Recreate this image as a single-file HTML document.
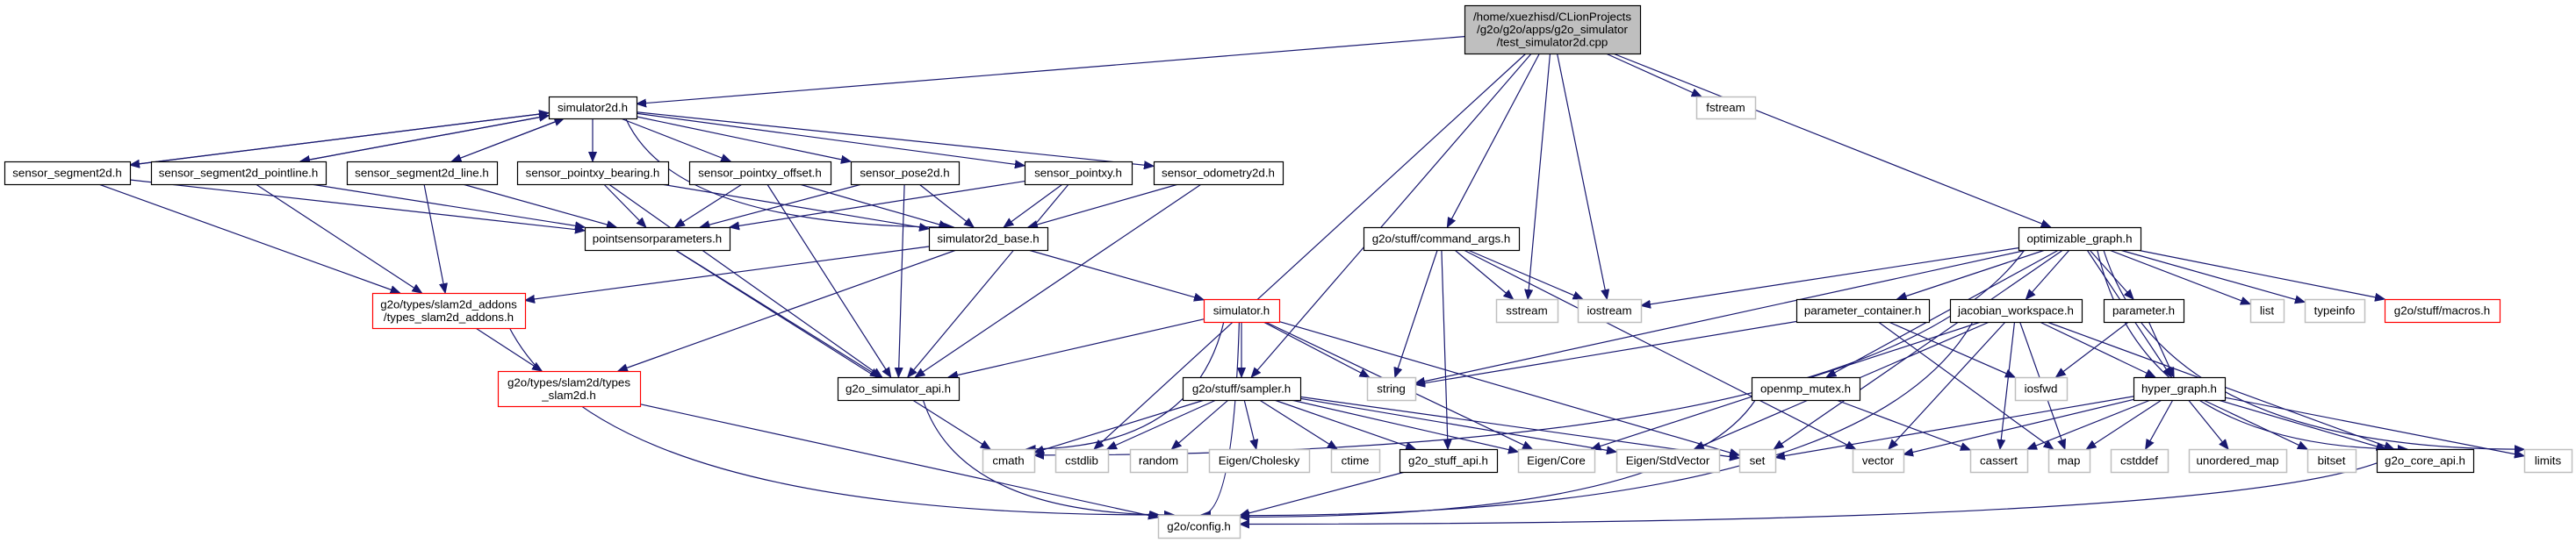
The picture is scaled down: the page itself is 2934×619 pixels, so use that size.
<!DOCTYPE html>
<html><head><meta charset="utf-8"><style>
html,body{margin:0;padding:0;background:#fff;}
svg{display:block;}
text{font-family:"Liberation Sans",Helvetica,sans-serif;font-size:13.33px;fill:#000;}
</style></head><body>
<svg id="g" xmlns="http://www.w3.org/2000/svg" width="2934" height="619" viewBox="0 0 2934 619">
<defs><marker id="a" markerUnits="userSpaceOnUse" markerWidth="12" markerHeight="10" refX="11" refY="5" orient="auto"><path d="M0,0.5 L11,5 L0,9.5 z" fill="#191970" stroke="#191970"/></marker></defs>
<g id="edges"></g>
<g id="nodes"></g>
</svg>
<script>
var N={
test:[1668,1868,6,61,["/home/xuezhisd/CLionProjects","/g2o/g2o/apps/g2o_simulator","/test_simulator2d.cpp"],"t"],
sim2d:[625,725,110,135,["simulator2d.h"],"b"],
fstream:[1932,1999,110,135,["fstream"],"g"],
seg:[5,148,184,210,["sensor_segment2d.h"],"b"],
segpl:[172,371,184,210,["sensor_segment2d_pointline.h"],"b"],
segl:[395,566,184,210,["sensor_segment2d_line.h"],"b"],
bear:[589,761,184,210,["sensor_pointxy_bearing.h"],"b"],
off:[785,946,184,210,["sensor_pointxy_offset.h"],"b"],
pose:[969,1092,184,210,["sensor_pose2d.h"],"b"],
pxy:[1167,1289,184,210,["sensor_pointxy.h"],"b"],
odo:[1314,1461,184,210,["sensor_odometry2d.h"],"b"],
psp:[666,831,259,285,["pointsensorparameters.h"],"b"],
base:[1058,1193,259,285,["simulator2d_base.h"],"b"],
cargs:[1553,1730,259,285,["g2o/stuff/command_args.h"],"b"],
opt:[2299,2438,259,285,["optimizable_graph.h"],"b"],
addons:[424,598,334,374,["g2o/types/slam2d_addons","/types_slam2d_addons.h"],"r"],
simh:[1371,1457,341,367,["simulator.h"],"r"],
sstream:[1704,1774,341,367,["sstream"],"g"],
iostream:[1797,1869,341,367,["iostream"],"g"],
pcont:[2046,2197,341,367,["parameter_container.h"],"b"],
jac:[2221,2371,341,367,["jacobian_workspace.h"],"b"],
param:[2396,2487,341,367,["parameter.h"],"b"],
list:[2563,2601,341,367,["list"],"g"],
typeinfo:[2625,2693,341,367,["typeinfo"],"g"],
macros:[2716,2847,341,367,["g2o/stuff/macros.h"],"r"],
types2d:[567,729,423,463,["g2o/types/slam2d/types","_slam2d.h"],"r"],
simapi:[954,1092,430,456,["g2o_simulator_api.h"],"b"],
sampler:[1347,1481,430,456,["g2o/stuff/sampler.h"],"b"],
string:[1557,1612,430,456,["string"],"g"],
omp:[1995,2118,430,456,["openmp_mutex.h"],"b"],
iosfwd:[2295,2354,430,456,["iosfwd"],"g"],
hg:[2430,2534,430,456,["hyper_graph.h"],"b"],
cmath:[1119,1178,512,538,["cmath"],"g"],
cstdlib:[1202,1262,512,538,["cstdlib"],"g"],
random:[1287,1352,512,538,["random"],"g"],
chol:[1377,1491,512,538,["Eigen/Cholesky"],"g"],
ctime:[1516,1571,512,538,["ctime"],"g"],
stuffapi:[1594,1705,512,538,["g2o_stuff_api.h"],"b"],
ecore:[1729,1816,512,538,["Eigen/Core"],"g"],
estd:[1841,1958,512,538,["Eigen/StdVector"],"g"],
set:[1981,2022,512,538,["set"],"g"],
vector:[2110,2168,512,538,["vector"],"g"],
cassert:[2244,2309,512,538,["cassert"],"g"],
map:[2333,2380,512,538,["map"],"g"],
cstddef:[2404,2469,512,538,["cstddef"],"g"],
umap:[2493,2604,512,538,["unordered_map"],"g"],
bitset:[2628,2683,512,538,["bitset"],"g"],
coreapi:[2707,2817,512,538,["g2o_core_api.h"],"b"],
limits:[2875,2929,512,538,["limits"],"g"],
config:[1319,1412,587,613,["g2o/config.h"],"g"]
};
var E=[
["test","sim2d"],["test","fstream"],["test","cstdlib"],["test","sampler"],["test","cargs"],["test","sstream"],["test","iostream"],["test","opt"],
["sim2d","seg"],["seg","sim2d"],["sim2d","segpl"],["segpl","sim2d"],["sim2d","segl"],["segl","sim2d"],["sim2d","bear"],["sim2d","off"],["sim2d","pose"],["sim2d","pxy"],["sim2d","odo"],["sim2d","base",1],
["seg","psp"],["seg","addons"],["segpl","psp"],["segpl","addons"],["segl","psp"],["segl","addons"],
["bear","psp"],["bear","base"],["bear","simapi"],["off","psp"],["off","base"],["off","simapi"],
["pose","psp"],["pose","base"],["pose","simapi"],["pxy","psp"],["pxy","base"],["pxy","simapi"],["odo","base"],["odo","simapi"],
["base","addons"],["base","simh"],["base","types2d"],["psp","simapi"],["psp","cmath"],
["addons","types2d"],["addons","config",1],["types2d","config"],
["simh","simapi"],["simh","sampler"],["simh","string"],["simh","set"],["simh","cmath",1],["simh","config",1],["simh","ecore"],
["sampler","cmath"],["sampler","cstdlib"],["sampler","random"],["sampler","chol"],["sampler","ctime"],["sampler","stuffapi"],["sampler","ecore"],["sampler","estd"],["sampler","set"],
["stuffapi","config"],["simapi","config",1],
["cargs","sstream"],["cargs","iostream"],["cargs","string"],["cargs","stuffapi"],["cargs","vector"],
["opt","iostream"],["opt","cmath",1],["opt","set"],["opt","pcont"],["opt","jac"],["opt","param"],["opt","list"],["opt","typeinfo"],["opt","macros"],["opt","omp"],["opt","hg"],["opt","coreapi",1],["opt","limits",1],["opt","string"],
["pcont","iosfwd"],["pcont","map"],["pcont","string"],
["jac","ecore"],["jac","estd"],["jac","vector"],["jac","cassert"],["jac","hg"],["jac","coreapi"],["jac","config",1],["jac","map"],
["param","iosfwd"],["param","hg"],["omp","cassert"],["omp","config",1],
["hg","set"],["hg","vector"],["hg","cassert"],["hg","map"],["hg","cstddef"],["hg","umap"],["hg","bitset"],["hg","coreapi"],["hg","limits"],
["coreapi","config",1]
];
function clip(n,px,py,cx,cy){var hw=(n[1]-n[0])/2,hh=(n[3]-n[2])/2,dx=px-cx,dy=py-cy;var t=Math.min(dx?hw/Math.abs(dx):1e9,dy?hh/Math.abs(dy):1e9);return [cx+dx*t,cy+dy*t];}
var ns="http://www.w3.org/2000/svg",eg=document.getElementById("edges"),ng=document.getElementById("nodes");
E.forEach(function(e){var s=N[e[0]],t=N[e[1]];var sx=(s[0]+s[1])/2,sy=(s[2]+s[3])/2,tx=(t[0]+t[1])/2,ty=(t[2]+t[3])/2;
var p=clip(s,tx,ty,sx,sy),q=clip(t,sx,sy,tx,ty);var el=document.createElementNS(ns,"path");var d;
if(e[2]){var mx=(p[0]+q[0])/2,my=(p[1]+q[1])/2;var cx=Math.min(p[0],q[0])+(q[0]>p[0]?0:0);d="M"+p[0]+","+p[1]+" Q"+(p[0]+ (q[0]-p[0])*0.15)+","+(q[1])+" "+q[0]+","+q[1];}
else d="M"+p[0]+","+p[1]+" L"+q[0]+","+q[1];
el.setAttribute("d",d);el.setAttribute("fill","none");el.setAttribute("stroke","#191970");el.setAttribute("stroke-width","1.2");el.setAttribute("marker-end","url(#a)");eg.appendChild(el);});
for(var k in N){var n=N[k];var r=document.createElementNS(ns,"rect");r.setAttribute("x",n[0]+0.5);r.setAttribute("y",n[2]+0.5);r.setAttribute("width",n[1]-n[0]);r.setAttribute("height",n[3]-n[2]);
var st=n[5];r.setAttribute("fill",st=="t"?"#bfbfbf":"#fff");r.setAttribute("stroke",st=="g"?"#bfbfbf":(st=="r"?"#ff0000":"#000"));r.setAttribute("stroke-width",st=="g"?"1.5":"1.2");ng.appendChild(r);
var L=n[4],cx=(n[0]+n[1])/2,cy=(n[2]+n[3])/2;for(var i=0;i<L.length;i++){var tx=document.createElementNS(ns,"text");tx.setAttribute("x",cx);tx.setAttribute("y",cy+(i-(L.length-1)/2)*14.5+4.5);tx.setAttribute("text-anchor","middle");tx.textContent=L[i];ng.appendChild(tx);}}
</script>
</body></html>
